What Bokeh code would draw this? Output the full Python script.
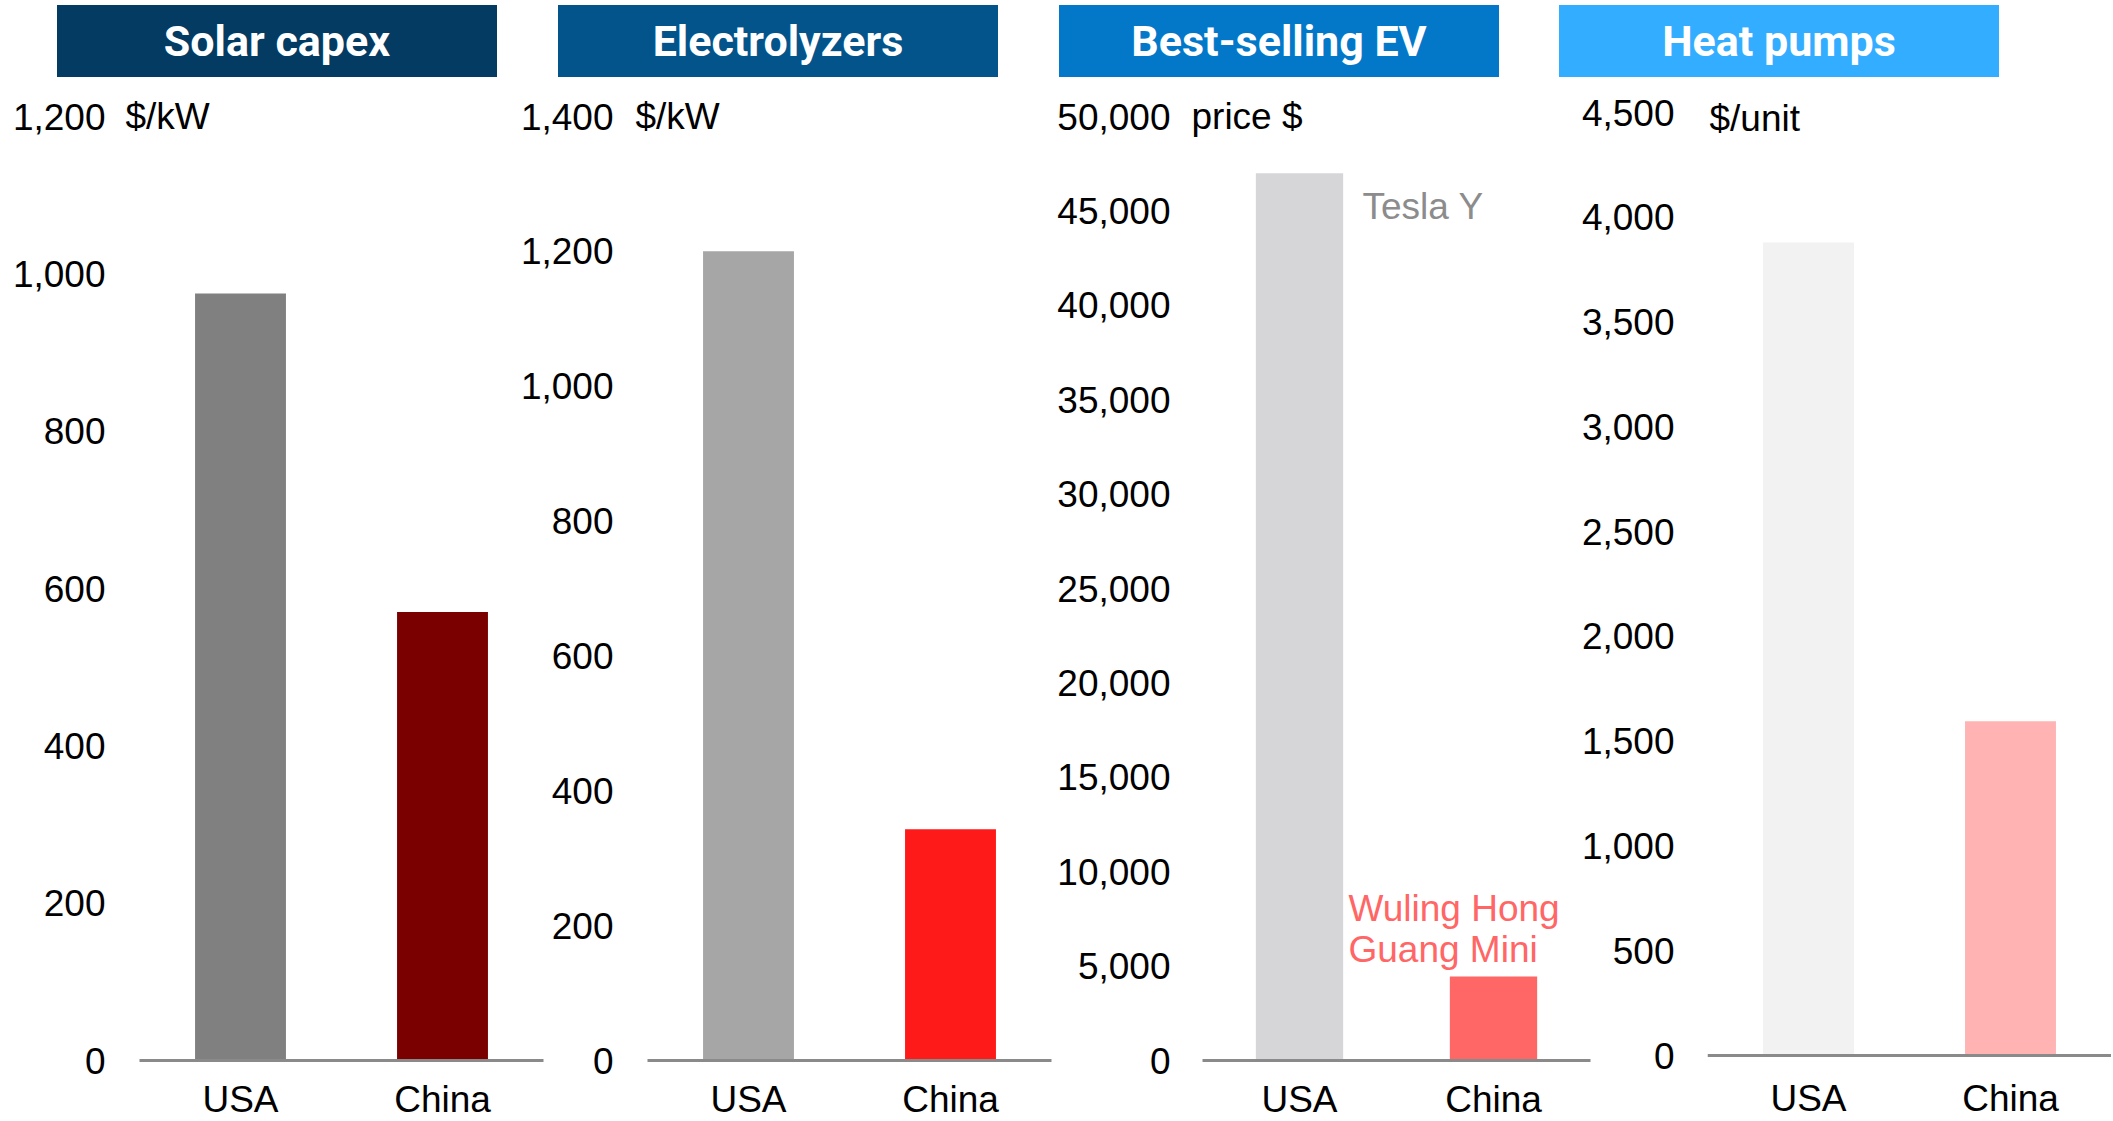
from bokeh.plotting import figure
from bokeh.models import (FactorRange, Range1d, FixedTicker, NumeralTickFormatter, Label, Div,
                          GlobalInlineStyleSheet)
from bokeh.layouts import row, column
from bokeh.core.properties import value
from bokeh.embed import file_html
from bokeh.resources import INLINE

# ---------------- data ----------------
categories = ["USA", "China"]
titles = ["Solar capex", "Electrolyzers", "Best-selling EV", "Heat pumps"]
units = ["$/kW", "$/kW", "price $", "$/unit"]

solar_values = [975, 570]
electrolyzer_values = [1200, 343]
ev_values = [47000, 4450]
heatpump_values = [3880, 1595]

solar_ticks = [0, 200, 400, 600, 800, 1000, 1200]
electrolyzer_ticks = [0, 200, 400, 600, 800, 1000, 1200, 1400]
ev_ticks = [0, 5000, 10000, 15000, 20000, 25000, 30000, 35000, 40000, 45000, 50000]
heatpump_ticks = [0, 500, 1000, 1500, 2000, 2500, 3000, 3500, 4000, 4500]

ev_models = ["Tesla Y", "Wuling Hong\nGuang Mini"]

# ---------------- styles ----------------
FONT = "Liberation Sans"
FS = "37px"
title_colors = ["#033B63", "#02548B", "#0378C9", "#33ADFF"]
bar_colors = [["#808080", "#7A0000"], ["#A6A6A6", "#FF1A1A"],
              ["#D6D6D8", "#FF6666"], ["#F2F2F2", "#FFB3B3"]]
AXIS_GRAY = "#8A8A8A"

panel_values = [solar_values, electrolyzer_values, ev_values, heatpump_values]
panel_ticks = [solar_ticks, electrolyzer_ticks, ev_ticks, heatpump_ticks]

FIG_TOP = 77
H = 1090
FRAME_TOP = 90
FRAME_BOTTOM = 1062
# per panel pixel geometry (style only)
geom = [
    dict(w=559, m=0, bl=123, ext=16, slot=202, tick_top=116, zero=1060, ys=18, xs=16),
    dict(w=550, m=-44, bl=118, ext=14, slot=202, tick_top=116, zero=1060, ys=20, xs=16),
    dict(w=551, m=-13, bl=137, ext=13, slot=194, tick_top=116, zero=1060, ys=19, xs=16),
    dict(w=536, m=-28, bl=132, ext=0, slot=202, tick_top=112, zero=1055, ys=33, xs=15),
]
unit_offsets = [(-14, 0), (-12, 0), (-11, 0), (2, -6)]
div_margins = [57, 61, 61, 60]

figs = []
divs = []
for i in range(4):
    g = geom[i]
    vals = panel_values[i]
    ticks = panel_ticks[i]
    px_per_unit = (g["zero"] - g["tick_top"]) / ticks[-1]
    y0 = -(FRAME_BOTTOM - g["zero"]) / px_per_unit
    y1 = ticks[-1] + (g["tick_top"] - FRAME_TOP) / px_per_unit
    p = figure(x_range=FactorRange(*categories, range_padding=g["ext"] / g["slot"],
                                   range_padding_units="absolute"),
               y_range=Range1d(y0, y1),
               width=g["w"], height=H, output_backend="svg", toolbar_location=None,
               min_border_left=g["bl"], min_border_right=0,
               min_border_top=FRAME_TOP - FIG_TOP,
               min_border_bottom=FIG_TOP + H - FRAME_BOTTOM,
               margin=(0, 0, 0, g["m"]))
    p.background_fill_alpha = 0
    p.border_fill_alpha = 0
    p.outline_line_color = None
    p.grid.grid_line_color = None

    p.vbar(x=categories, top=vals, width=0.45, color=bar_colors[i], line_color=None)
    # baseline spanning the category slots
    p.segment(x0=[0], y0=[0], x1=[len(categories)], y1=[0],
              line_color=AXIS_GRAY, line_width=3)

    ya = p.yaxis[0]
    ya.ticker = FixedTicker(ticks=ticks)
    ya.formatter = NumeralTickFormatter(format="0,0")
    ya.axis_line_color = None
    ya.major_tick_line_color = None
    ya.minor_tick_line_color = None
    ya.major_tick_out = 0
    ya.major_tick_in = 0
    ya.minor_tick_out = 0
    ya.major_label_standoff = g["ys"]
    ya.major_label_text_font = FONT
    ya.major_label_text_font_size = FS
    ya.major_label_text_color = "black"

    xa = p.xaxis[0]
    xa.axis_line_color = None
    xa.major_tick_line_color = None
    xa.minor_tick_line_color = None
    xa.major_tick_out = 0
    xa.major_tick_in = 0
    xa.minor_tick_out = 0
    xa.major_label_standoff = g["xs"]
    xa.major_label_text_font = FONT
    xa.major_label_text_font_size = FS
    xa.major_label_text_color = "black"

    dx, dy = unit_offsets[i]
    p.add_layout(Label(x=0, y=ticks[-1], text=units[i], x_offset=dx, y_offset=dy,
                       text_font=FONT, text_font_size=FS, text_color="black",
                       text_baseline="middle", text_align="left"))

    if i == 2:
        p.text(x=[categories[0]], y=[vals[0]], text=[ev_models[0]],
               x_offset=63, y_offset=33, text_font=value(FONT), text_font_size=FS,
               text_color="#8C8C8C", text_baseline="middle", text_align="left")
        p.text(x=[categories[1]], y=[vals[1]], text=[ev_models[1]],
               x_offset=-145, y_offset=-47, text_font=value(FONT), text_font_size=FS,
               text_color="#FF6666", text_baseline="middle", text_align="left",
               text_line_height=1.0)
    figs.append(p)

    d = Div(text=titles[i], width=440, height=72, margin=(5, 0, 0, div_margins[i]),
            styles={"background-color": title_colors[i], "color": "white",
                    "font-family": "Roboto", "font-weight": "bold",
                    "font-size": "43px", "text-align": "center",
                    "line-height": "72px", "white-space": "nowrap"})
    divs.append(d)

layout = column(row(*divs), row(*figs))
layout.stylesheets = [GlobalInlineStyleSheet(css="html, body { overflow: hidden; }")]

open("out.html", "w").write(file_html(layout, INLINE))
